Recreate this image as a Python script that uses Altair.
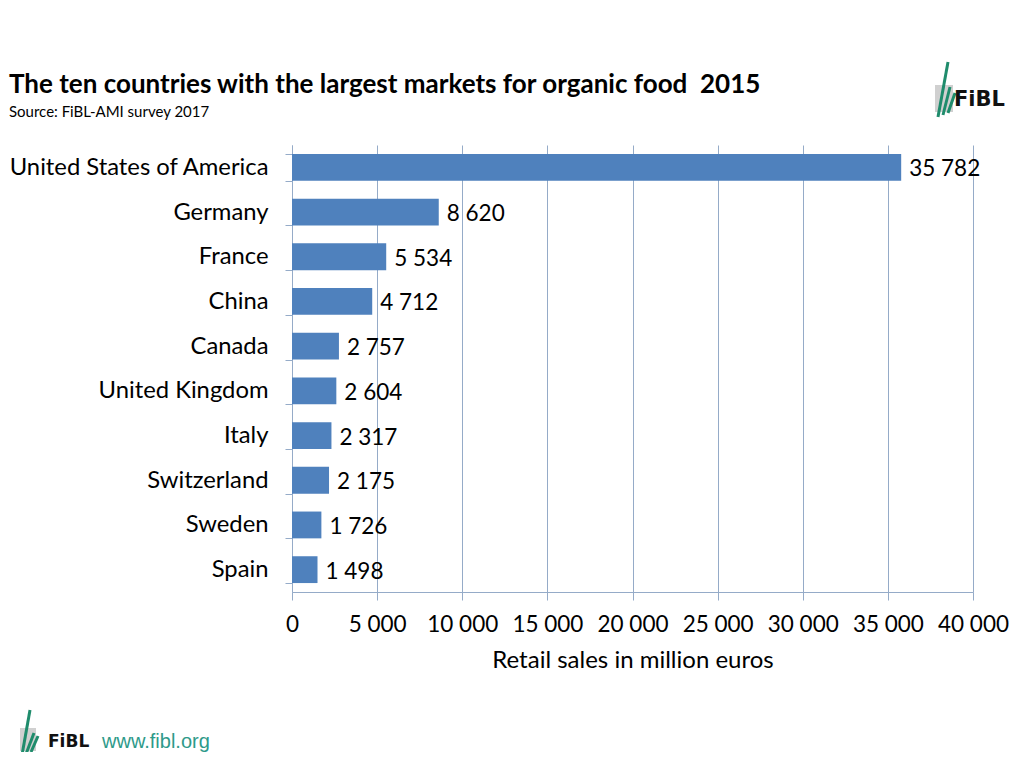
import altair as alt
import pandas as pd

countries = ["United States of America", "Germany", "France", "China", "Canada",
             "United Kingdom", "Italy", "Switzerland", "Sweden", "Spain"]
sales = [35782, 8620, 5534, 4712, 2757, 2604, 2317, 2175, 1726, 1498]
x_ticks = [0, 5000, 10000, 15000, 20000, 25000, 30000, 35000, 40000]

title_text = "The ten countries with the largest markets for organic food\u00a0 2015"
subtitle_text = "Source: FiBL-AMI survey 2017"
axis_title = "Retail sales in million euros"

FONT = "Lato"
GRID = "#95ABC8"
GREEN = "#1F8C6C"

df = pd.DataFrame({
    "country": countries,
    "sales": sales,
    "label": [f"{v:,}".replace(",", " ") for v in sales],
})

x_enc = alt.X("sales:Q",
              scale=alt.Scale(domain=[0, 40000], nice=False),
              axis=alt.Axis(values=x_ticks, title=axis_title,
                            labelExpr="replace(format(datum.value, ','), ',', ' ')",
                            labelOverlap=False, labelFlush=False,
                            labelFont=FONT, labelFontSize=22.5, labelColor="#000000",
                            labelPadding=13, tickSize=8, tickColor=GRID,
                            domainColor=GRID, gridColor=GRID, grid=True,
                            titleFont=FONT, titleFontSize=24, titleFontWeight="normal",
                            titleColor="#000000", titlePadding=13))
y_enc = alt.Y("country:N", sort=countries,
              scale=alt.Scale(paddingInner=0.4, paddingOuter=0.2),
              axis=alt.Axis(title=None, labelFont=FONT, labelFontSize=23.8,
                            labelLimit=400,
                            labelColor="#000000", labelPadding=17, tickSize=7,
                            tickBand="extent", tickColor=GRID, domainColor=GRID,
                            grid=False))

bars = alt.Chart(df).mark_bar(color="#4F81BD").encode(x=x_enc, y=y_enc)
labels = alt.Chart(df).mark_text(align="left", baseline="middle", dx=8, dy=2,
                                 font=FONT, fontSize=22.5, color="#000000").encode(
    x="sales:Q", y=alt.Y("country:N", sort=countries), text="label:N")

meta = pd.DataFrame({"t": [title_text], "s": [subtitle_text], "w": ["www.fibl.org"], "f": ["FiBL"]})
title = alt.Chart(meta).mark_text(align="left", baseline="middle", font=FONT,
                                  fontSize=26, fontWeight="bold", color="#000000").encode(
    x=alt.value(-283), y=alt.value(-60), text="t:N")
subtitle = alt.Chart(meta).mark_text(align="left", baseline="middle", font=FONT,
                                     fontSize=15, color="#000000").encode(
    x=alt.value(-283), y=alt.value(-33), text="s:N")
logo_top = alt.Chart(meta).mark_text(align="left", baseline="middle", font="DejaVu Sans",
                                     fontSize=21, fontWeight="bold", color="#111111").encode(
    x=alt.value(662), y=alt.value(-45), text="f:N")
logo_bot = alt.Chart(meta).mark_text(align="left", baseline="middle", font="DejaVu Sans",
                                     fontSize=17, fontWeight="bold", color="#111111").encode(
    x=alt.value(-244), y=alt.value(597), text="f:N")
www = alt.Chart(meta).mark_text(align="left", baseline="middle", font="Liberation Sans",
                                fontSize=20, color="#2E9A8A").encode(
    x=alt.value(-190), y=alt.value(597), text="w:N")

# logo decorations (grey block and green leaf strokes)
grey_top = alt.Chart(meta).mark_rect(color="#D0D0D0").encode(
    x=alt.value(643), x2=alt.value(661), y=alt.value(-60), y2=alt.value(-33))
grey_bot = alt.Chart(meta).mark_rect(color="#D0D0D0").encode(
    x=alt.value(-272), x2=alt.value(-256), y=alt.value(583), y2=alt.value(606))
leaf = []
for (x1, y1, x2, y2) in [(646, -28, 656, -83), (651, -30, 658, -58), (656, -32, 663, -52),
                          (-270, 610, -262, 565), (-266, 609, -258, 588), (-261, 607, -254, 591)]:
    leaf.append(alt.Chart(meta).mark_rule(color=GREEN, strokeWidth=3).encode(
        x=alt.value(x1), y=alt.value(y1), x2=alt.value(x2), y2=alt.value(y2)))

chart = alt.layer(bars, labels, title, subtitle, grey_top, grey_bot, *leaf,
                  logo_top, logo_bot, www).properties(
    width=681, height=447,
    autosize=alt.AutoSizeParams(type="none"),
    padding={"left": 284, "top": 137, "right": 40, "bottom": 160},
).configure_view(stroke=None).configure_axis(domainWidth=1, gridWidth=1)

chart.save("out.html", embed_options={"renderer": "svg", "actions": False})
